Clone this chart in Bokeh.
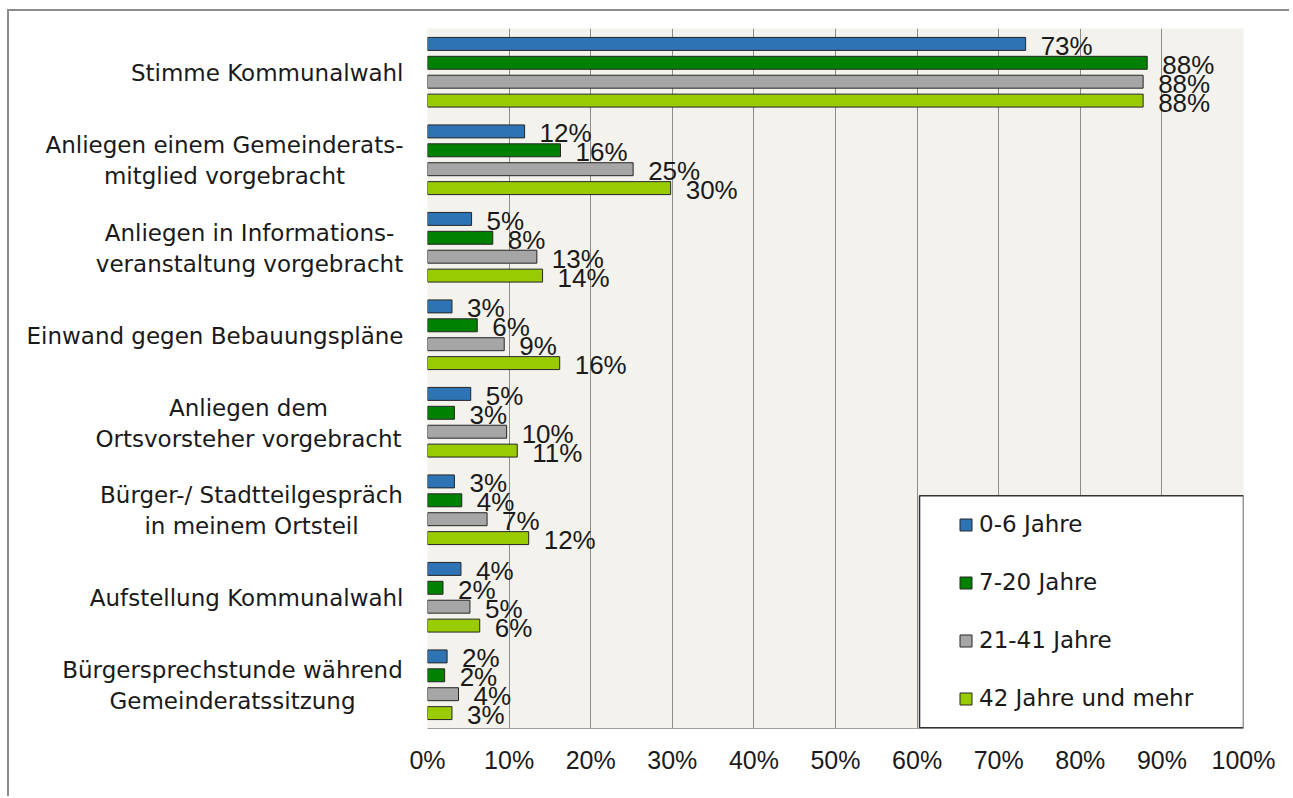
from bokeh.plotting import figure
from bokeh.layouts import row
from bokeh.models import (Range1d, ColumnDataSource, Legend, LegendItem,
                          BoxAnnotation, FixedTicker, PrintfTickFormatter)
from bokeh.core.properties import value
from bokeh.embed import file_html
from bokeh.resources import INLINE

# ---------------- data ----------------
categories = [
    "Stimme Kommunalwahl",
    "Anliegen einem Gemeinderats-\nmitglied vorgebracht",
    "Anliegen in Informations-\nveranstaltung vorgebracht",
    "Einwand gegen Bebauungspläne",
    "Anliegen dem\nOrtsvorsteher vorgebracht",
    "Bürger-/ Stadtteilgespräch\nin meinem Ortsteil",
    "Aufstellung Kommunalwahl",
    "Bürgersprechstunde während\nGemeinderatssitzung",
]
series_names = ["0-6 Jahre", "7-20 Jahre", "21-41 Jahre", "42 Jahre und mehr"]
age_0_6 = [73.3, 11.9, 5.4, 3.0, 5.3, 3.3, 4.1, 2.4]
age_7_20 = [88.2, 16.3, 8.0, 6.1, 3.3, 4.2, 1.9, 2.1]
age_21_41 = [87.7, 25.2, 13.4, 9.4, 9.7, 7.3, 5.2, 3.8]
age_42_plus = [87.7, 29.8, 14.1, 16.2, 11.0, 12.4, 6.4, 3.0]
x_ticks = [0, 10, 20, 30, 40, 50, 60, 70, 80, 90, 100]

series_values = [age_0_6, age_7_20, age_21_41, age_42_plus]
colors = ["#2e74b5", "#008000", "#a6a6a6", "#99cc00"]

# ---------------- layout / style ----------------
LEFT_W = 398          # width of the category-label panel (px)
label_align = ["right", "center", "center", "right", "center", "center", "right", "center"]
label_pos = [394, 215, 240, 394, 239, 242, 394, 223]   # px inside label panel
bar_step = 0.216
bar_h = 0.148

y_range = Range1d(len(categories), 0)

# category label panel
lp = figure(frame_width=LEFT_W, frame_height=700,
            min_border_left=0, min_border_right=0, min_border_top=17, min_border_bottom=68,
            x_range=Range1d(0, LEFT_W), y_range=y_range,
            x_axis_location=None, y_axis_location=None,
            toolbar_location=None, output_backend="svg",
            background_fill_color="white", border_fill_color="white",
            outline_line_color=None)
lp.grid.visible = False
lsrc = ColumnDataSource(dict(x=label_pos, y=[i + 0.5 for i in range(len(categories))],
                             t=categories, a=label_align))
lp.text(x="x", y="y", text="t", text_align="a", source=lsrc, y_offset=1,
        text_font=value("DejaVu Sans"), text_font_size="23px",
        text_color="#1a1a1a", text_baseline="middle", text_line_height=1.18)

# main chart
p = figure(frame_width=816, frame_height=700,
           min_border_left=20, min_border_top=17, min_border_right=46, min_border_bottom=68,
           x_range=Range1d(0, 100), y_range=y_range,
           y_axis_location=None, toolbar_location=None, output_backend="svg",
           background_fill_color="#f3f2ec", border_fill_color="white",
           outline_line_color=None)

p.xaxis.ticker = FixedTicker(ticks=x_ticks)
p.xaxis.formatter = PrintfTickFormatter(format="%d%%")
p.xaxis.axis_line_color = "#a0a0a0"
p.xaxis.major_tick_line_color = None
p.xaxis.minor_tick_line_color = None
p.xaxis.major_label_text_font = "Liberation Sans"
p.xaxis.major_label_text_font_size = "25px"
p.xaxis.major_label_text_color = "#1a1a1a"
p.xaxis.major_label_standoff = 11

p.xgrid.ticker = FixedTicker(ticks=x_ticks)
p.xgrid.grid_line_color = "#8c8c8c"
p.xgrid.grid_line_width = 1
p.ygrid.grid_line_color = None

renderers = []
for j, (name, vals, col) in enumerate(zip(series_names, series_values, colors)):
    ys = [i + 0.5 + (j - 1.5) * bar_step for i in range(len(categories))]
    src = ColumnDataSource(dict(y=ys, v=vals, lab=[f"{round(v)}%" for v in vals]))
    r = p.hbar(y="y", left=0, right="v", height=bar_h, source=src,
               fill_color=col, line_color="#262626", line_width=1)
    renderers.append(r)
    p.text(x="v", y="y", text="lab", source=src, x_offset=15, y_offset=2,
           text_font=value("Liberation Sans"), text_font_size="26px",
           text_color="#1a1a1a", text_baseline="middle", text_align="left")

box = BoxAnnotation(left=60.3, right=100, top=5.34, bottom=7.99,
                    fill_color="white", fill_alpha=1.0,
                    line_color="#333333", line_alpha=1.0, line_width=1.5)
p.add_layout(box)

legend = Legend(items=[LegendItem(label=n, renderers=[r]) for n, r in zip(series_names, renderers)],
                location=(531, 17), orientation="vertical",
                padding=16, spacing=32, margin=0,
                glyph_width=15, glyph_height=15, label_height=26, label_standoff=6,
                label_text_font="DejaVu Sans", label_text_font_size="23px",
                label_text_color="#1a1a1a",
                background_fill_alpha=0, border_line_color=None)
p.add_layout(legend)

layout = row(lp, p, spacing=0)
layout.styles = {"margin-left": "7px", "margin-top": "9px",
                 "border-top": "2px solid #8c8c8c", "border-left": "2px solid #8c8c8c"}

open("out.html", "w").write(file_html(layout, INLINE))
